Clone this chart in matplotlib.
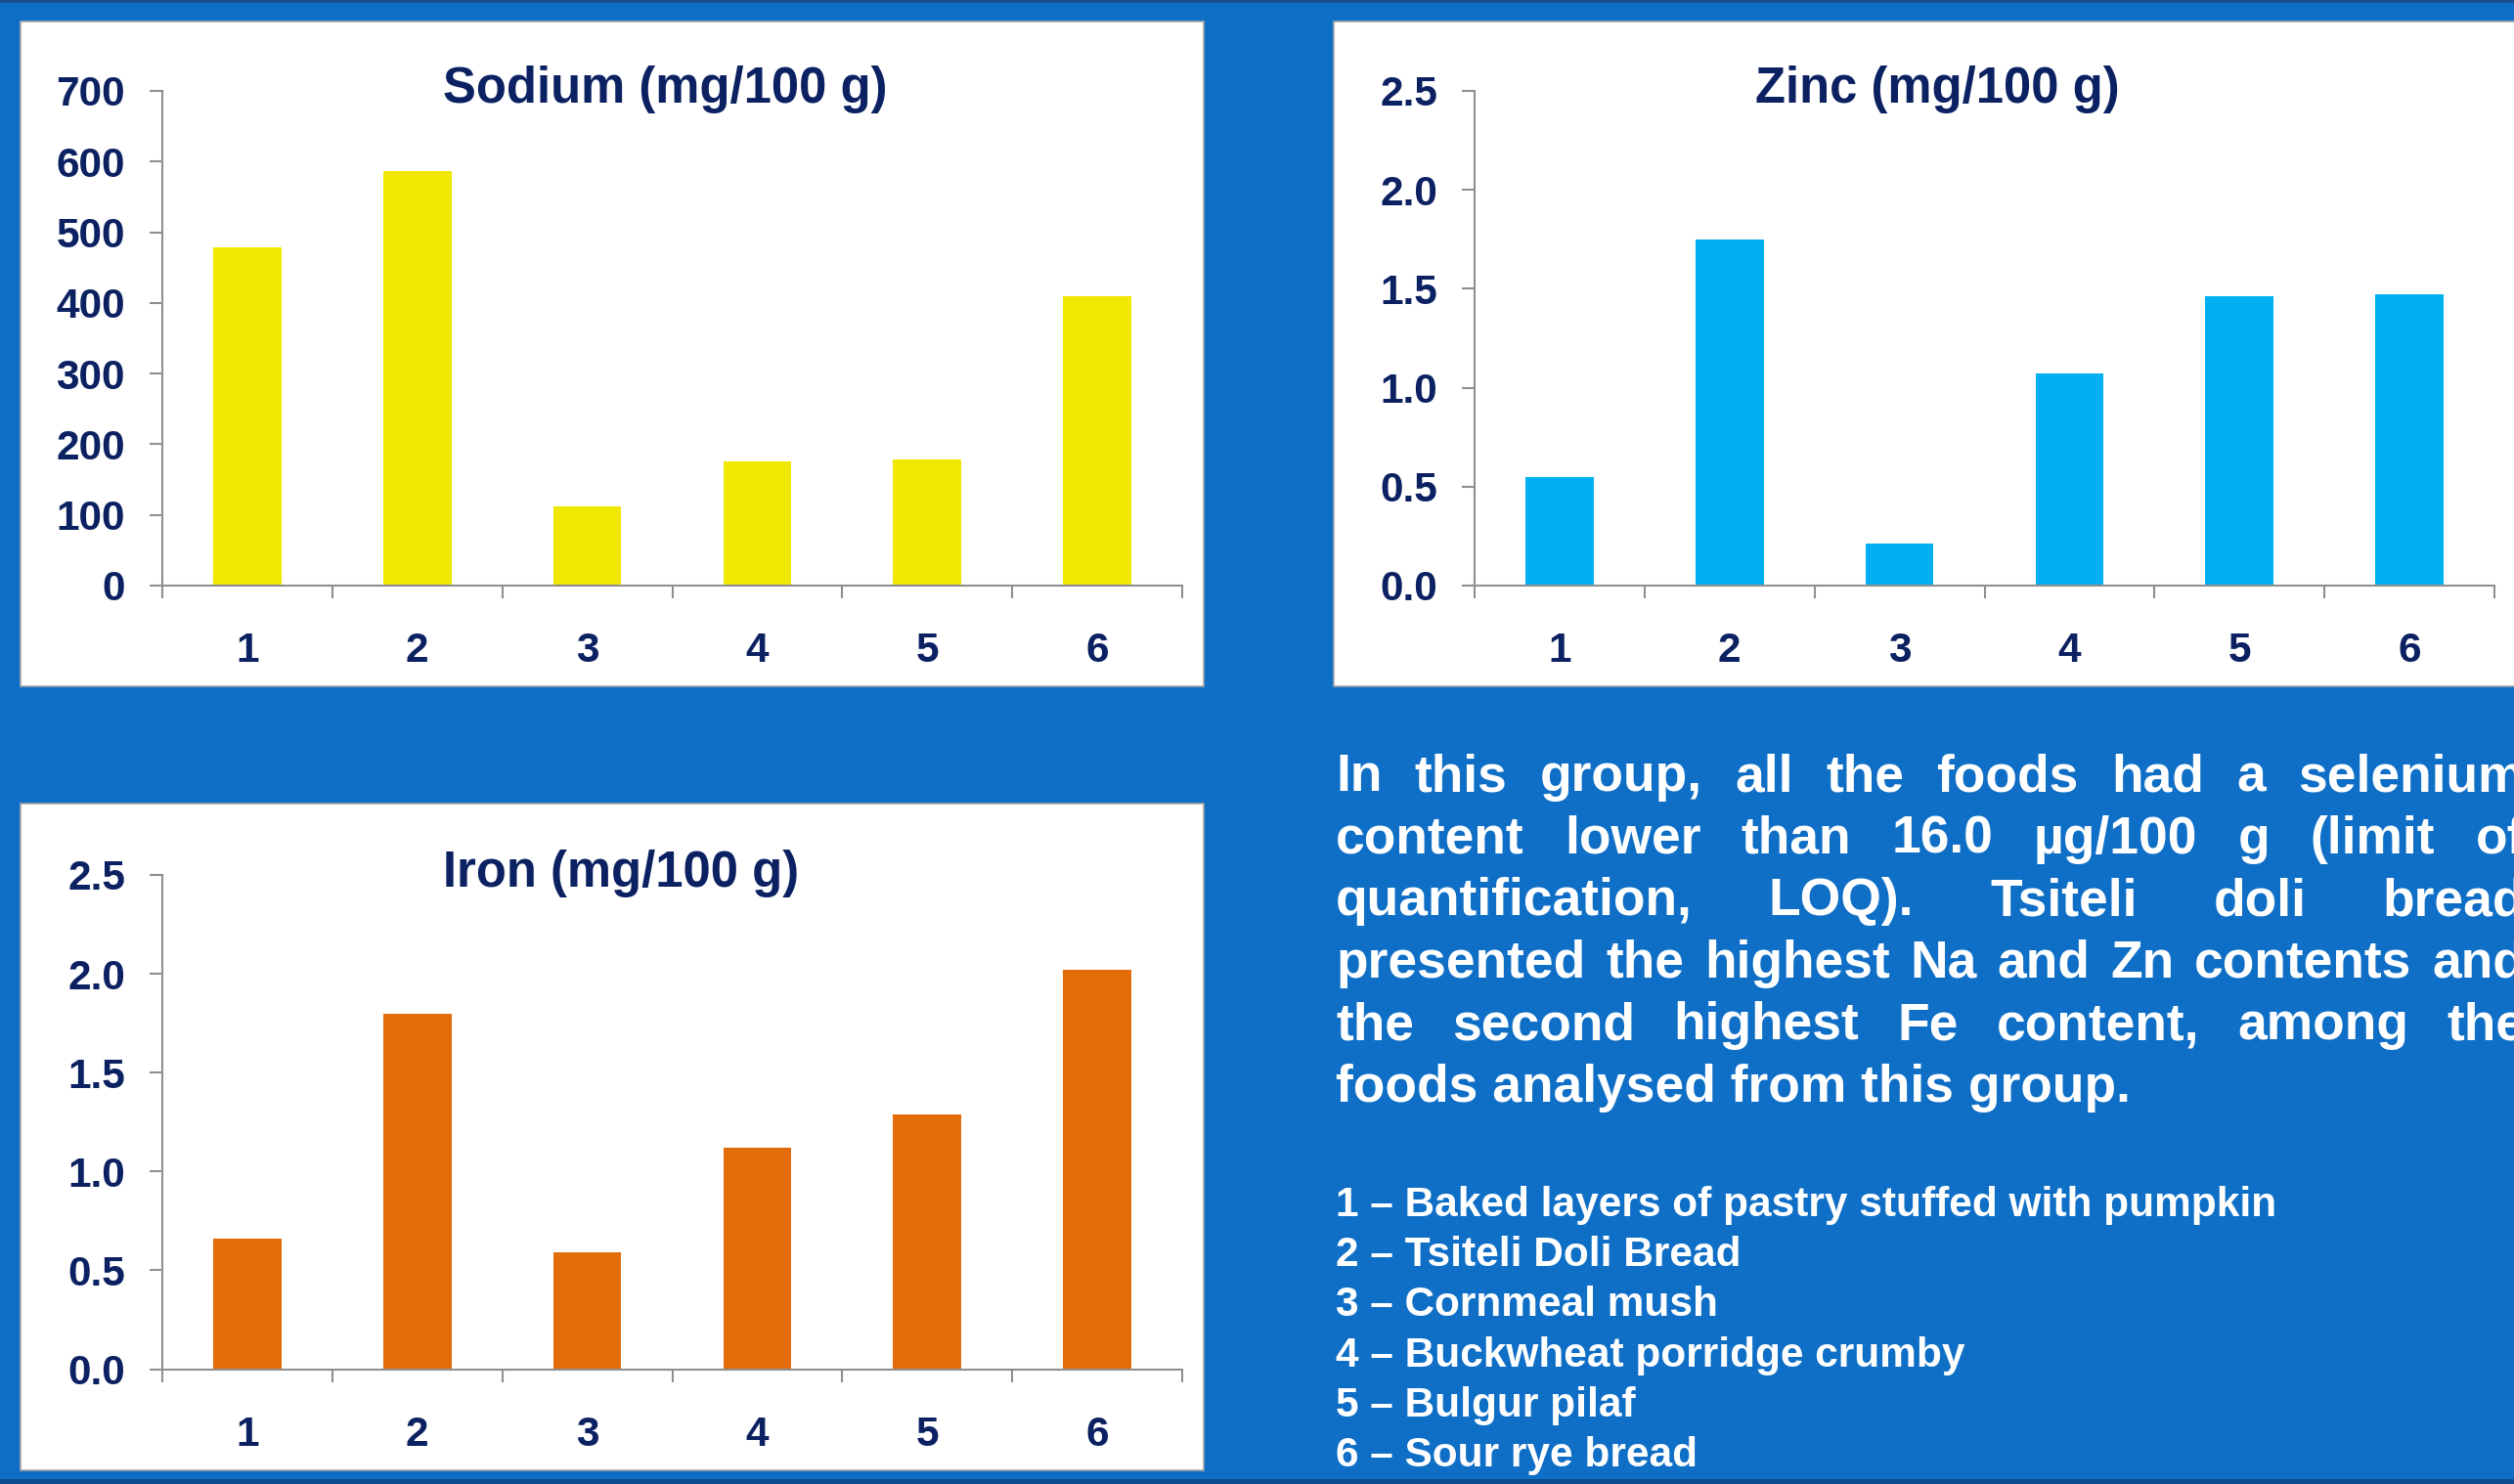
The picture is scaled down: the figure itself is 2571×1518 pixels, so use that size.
import matplotlib
matplotlib.use("Agg")
import matplotlib.pyplot as plt
from matplotlib.patches import Rectangle
from matplotlib.ticker import FixedLocator, FormatStrFormatter

plt.rcParams['font.family'] = ['Liberation Sans', 'DejaVu Sans']
plt.rcParams['font.weight'] = 'bold'

# ---- data -------------------------------------------------------------
categories = ['1', '2', '3', '4', '5', '6']
sodium = [478, 586, 112, 176, 178, 409]      # mg/100 g
zinc = [0.55, 1.75, 0.21, 1.07, 1.46, 1.47]  # mg/100 g
iron = [0.66, 1.80, 0.59, 1.12, 1.29, 2.02]  # mg/100 g

paragraph = [
    "In this group, all the foods had a selenium",
    "content lower than 16.0 \u00b5g/100 g (limit of",
    "quantification, LOQ). Tsiteli doli bread",
    "presented the highest Na and Zn contents and",
    "the second highest Fe content, among the",
    "foods analysed from this group.",
]
food_names = [
    "Baked layers of pastry stuffed with pumpkin",
    "Tsiteli Doli Bread",
    "Cornmeal mush",
    "Buckwheat porridge crumby",
    "Bulgur pilaf",
    "Sour rye bread",
]

# ---- styling ----------------------------------------------------------
W, H = 2571, 1518
DPI = 100
BG = '#0F6FC6'
NAVY = '#0B2161'
GRAY = '#8F8F8F'

fig = plt.figure(figsize=(W / DPI, H / DPI), dpi=DPI, facecolor=BG)


def fx(px):
    return px / W


def fy(py):
    return 1 - py / H


# thin darker bands along the top and bottom edges
fig.patches.append(Rectangle((0, fy(3)), 1, fy(0) - fy(3), transform=fig.transFigure,
                             facecolor='#1B4E8C', edgecolor='none', zorder=-2))
fig.patches.append(Rectangle((0, fy(1518)), 1, fy(1513) - fy(1518), transform=fig.transFigure,
                             facecolor='#0B4B8E', edgecolor='none', zorder=-2))


def panel(x0, y0, x1, y1):
    fig.patches.append(Rectangle((fx(x0), fy(y1)), fx(x1) - fx(x0), fy(y0) - fy(y1),
                                 transform=fig.transFigure, facecolor='white',
                                 edgecolor='#A6A6A6', linewidth=1.2, zorder=-1))


def chart(left, top, right, bottom, values, ymax, ystep, color, title, title_x, title_base, fmt):
    ax = fig.add_axes([fx(left), fy(bottom), fx(right) - fx(left), fy(top) - fy(bottom)])
    ax.set_zorder(2)
    ax.set_facecolor('none')
    x = list(range(1, len(categories) + 1))
    ax.bar(x, values, width=0.40, color=color, zorder=2)
    ax.set_xlim(0.5, len(categories) + 0.5)
    ax.set_ylim(0, ymax)
    for s in ('top', 'right'):
        ax.spines[s].set_visible(False)
    for s in ('left', 'bottom'):
        ax.spines[s].set_color(GRAY)
        ax.spines[s].set_linewidth(1.5)
        ax.spines[s].set_zorder(3)
    n = int(round(ymax / ystep))
    ax.yaxis.set_major_locator(FixedLocator([i * ystep for i in range(n + 1)]))
    ax.yaxis.set_major_formatter(FormatStrFormatter(fmt))
    ax.tick_params(axis='y', direction='out', length=9.4, width=1.5, color=GRAY,
                   pad=18, labelsize=30.5, labelcolor=NAVY)
    ax.set_xticks(x)
    ax.set_xticklabels(categories)
    ax.xaxis.set_minor_locator(FixedLocator([i + 0.5 for i in range(len(categories) + 1)]))
    ax.tick_params(axis='x', which='major', length=0, pad=34, labelsize=30.5, labelcolor=NAVY)
    ax.tick_params(axis='x', which='minor', direction='out', length=9, width=1.5, color=GRAY)
    for lab in ax.get_xticklabels() + ax.get_yticklabels():
        lab.set_fontweight('bold')
    fig.text(fx(title_x), fy(title_base), title, ha='left', va='baseline',
             fontsize=36.5, fontweight='bold', color=NAVY, zorder=3)
    return ax


panel(21, 22, 1231, 702)
panel(1364, 22, 2600, 702)
panel(21, 822, 1231, 1504)

chart(166, 93, 1209, 599, sodium, 700, 100, '#F0E800', 'Sodium (mg/100 g)', 453, 105, '%d')
chart(1508, 93, 2551, 599, zinc, 2.5, 0.5, '#00B0F0', 'Zinc (mg/100 g)', 1795, 105, '%.1f')
chart(166, 895, 1209, 1400.5, iron, 2.5, 0.5, '#E36C0A', 'Iron (mg/100 g)', 453, 907, '%.1f')

# ---- justified paragraph ----------------------------------------------
renderer = fig.canvas.get_renderer()
para_kw = dict(fontsize=38.4, fontweight='bold', color='white', va='baseline', ha='left')
x_left, x_right = 1366, 2582
base0, step = 809, 63.6
for i, line in enumerate(paragraph):
    yb = base0 + i * step
    words = line.split(' ')
    if i == len(paragraph) - 1:
        fig.text(fx(x_left), fy(yb), line, **para_kw)
        continue
    texts = [fig.text(0, 0, w, **para_kw) for w in words]
    widths = [t.get_window_extent(renderer).width for t in texts]
    gap = (x_right - x_left - sum(widths)) / (len(words) - 1)
    xpos = x_left
    for t, w in zip(texts, widths):
        t.set_position((fx(xpos), fy(yb)))
        xpos += w + gap

# ---- numbered key -----------------------------------------------------
list_base, list_step = 1244, 51.2
for i, (cat, name) in enumerate(zip(categories, food_names)):
    fig.text(fx(1366), fy(list_base + i * list_step), f"{cat} \u2013 {name}",
             fontsize=30.5, fontweight='bold', color='white', ha='left', va='baseline')

fig.savefig('out.png', dpi=DPI, facecolor=BG)
